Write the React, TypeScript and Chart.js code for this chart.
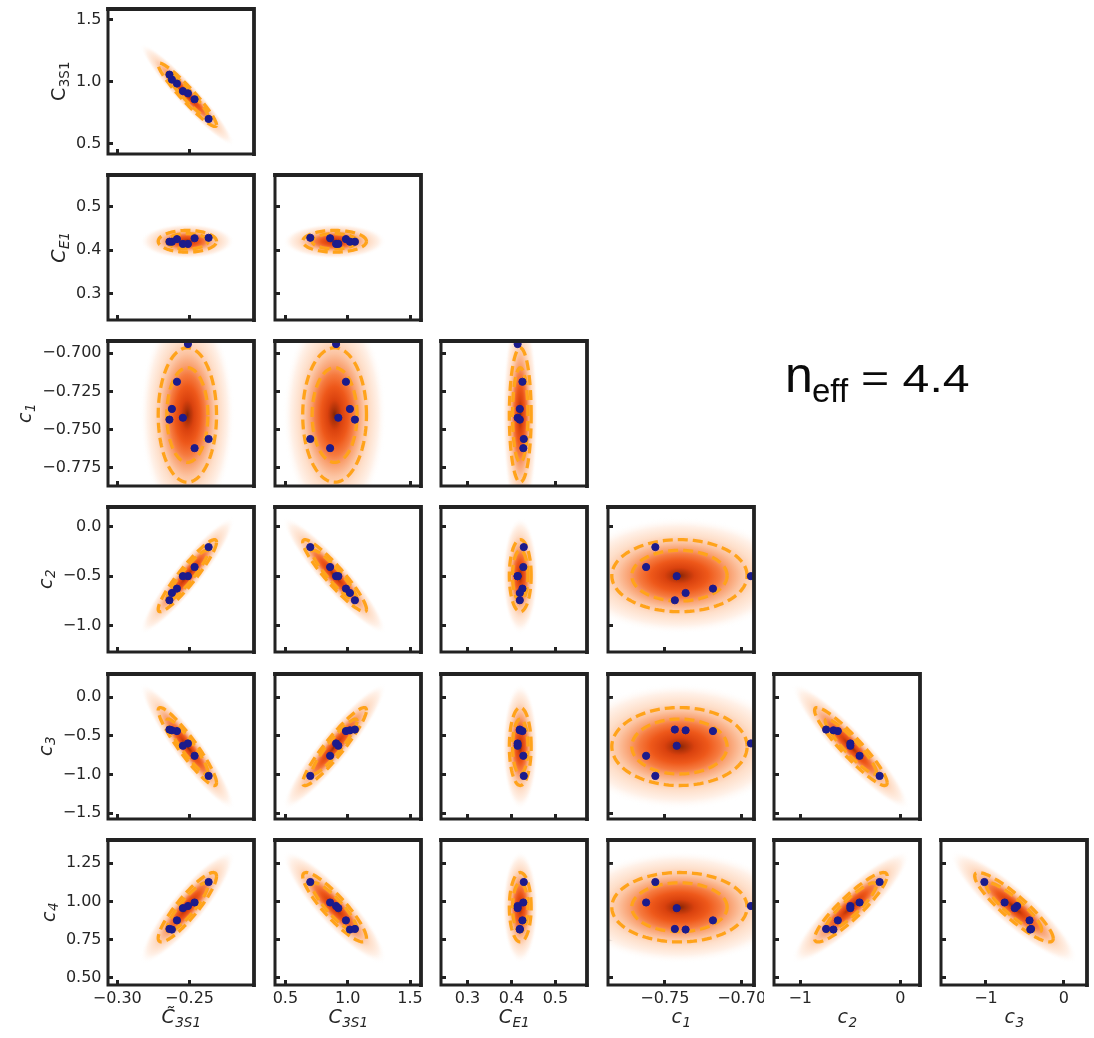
import React, { useEffect, useRef } from 'react';
import { Chart, registerables } from 'chart.js';

Chart.register(...registerables);

// ---------------- data ----------------
// parameter order: C~3S1, C3S1, CE1, c1, c2, c3, c4
const labelMain = ['C\u0303', 'C', 'C', 'c', 'c', 'c', 'c'];
const labelSub = ['3S1', '3S1', 'E1', '1', '2', '3', '4'];
const yLabelItalic = [true, false, true, true, true, true, true];

const axisMin = [-0.3064, 0.417, 0.2395, -0.787, -1.262, -1.577, 0.453];
const axisMax = [-0.2054, 1.588, 0.572, -0.692, 0.195, 0.298, 1.402];

const xTickValues = [[-0.3, -0.25], [0.5, 1.0, 1.5], [0.3, 0.4, 0.5], [-0.75, -0.7], [-1, 0], [-1, 0], []];
const xTickLabels = [['−0.30', '−0.25'], ['0.5', '1.0', '1.5'], ['0.3', '0.4', '0.5'], ['−0.75', '−0.70'], ['−1', '0'], ['−1', '0'], []];
const yTickValues = [[], [0.5, 1.0, 1.5], [0.3, 0.4, 0.5], [-0.7, -0.725, -0.75, -0.775], [0, -0.5, -1.0], [0, -0.5, -1.0, -1.5], [0.5, 0.75, 1.0, 1.25]];
const yTickLabels = [[], ['0.5', '1.0', '1.5'], ['0.3', '0.4', '0.5'], ['−0.700', '−0.725', '−0.750', '−0.775'], ['0.0', '−0.5', '−1.0'], ['0.0', '−0.5', '−1.0', '−1.5'], ['0.50', '0.75', '1.00', '1.25']];

// gaussian posterior summary (mean, 1-sigma contour half width)
const meanValues = [-0.2515, 0.895, 0.42, -0.7405, -0.495, -0.64, 0.962];
const sigmaValues = [0.0142, 0.18, 0.0175, 0.031, 0.255, 0.355, 0.16];

// correlations, lower triangle: row parameter (1..6) vs column parameter (0..row-1)
const corrRow1 = [-0.95];
const corrRow2 = [0, 0];
const corrRow3 = [0, 0, 0];
const corrRow4 = [0.93, -0.93, 0, 0];
const corrRow5 = [-0.93, 0.93, 0, 0, -0.93];
const corrRow6 = [0.89, -0.89, 0, 0, 0.9, -0.9];
const corrRows = [corrRow1, corrRow2, corrRow3, corrRow4, corrRow5, corrRow6];

const contourLevels = [1.0, 1.42];

// blue samples (7 samples)
const sampleCt3S1 = [-0.2511, -0.2587, -0.2622, -0.2546, -0.2639, -0.2368, -0.2465];
const sampleC3S1 = [0.907, 0.986, 1.018, 0.925, 1.058, 0.70, 0.859];
const sampleCE1 = [0.414, 0.425, 0.419, 0.414, 0.419, 0.428, 0.427];
const sampleC1 = [-0.694, -0.7187, -0.7365, -0.7423, -0.7435, -0.7562, -0.7622];
const sampleC2 = [-0.50, -0.625, -0.669, -0.50, -0.742, -0.208, -0.408];
const sampleC3 = [-0.60, -0.44, -0.43, -0.63, -0.42, -1.02, -0.76];
const sampleC4 = [0.97, 0.876, 0.816, 0.956, 0.82, 1.127, 0.993];
const samples = [sampleCt3S1, sampleC3S1, sampleCE1, sampleC1, sampleC2, sampleC3, sampleC4];

const neffValue = '4.4';

// ---------------- layout ----------------
const Lm = 105, Rm = 10, Tm = 10, Bm = 50;
const PW = 146, PH = 145;
const colLeft = [108, 275, 441, 608, 774, 941];
const rowTop = [9, 175, 341, 507, 674, 840];

const TICK_FONT = '"DejaVu Sans", sans-serif';
const TEXT_COLOR = '#262626';

function contourPoints(mx: number, my: number, sx: number, sy: number, rho: number, r: number) {
  const pts: { x: number; y: number }[] = [];
  const n = 120;
  const s = Math.sqrt(1 - rho * rho);
  for (let k = 0; k <= n; k++) {
    const t = (2 * Math.PI * k) / n;
    const u = Math.cos(t), v = Math.sin(t);
    pts.push({ x: mx + r * sx * u, y: my + r * sy * (rho * u + s * v) });
  }
  return pts;
}

function drawMathLabel(ctx: CanvasRenderingContext2D, main: string, sub: string, italic: boolean, x: number, y: number, rotated: boolean) {
  ctx.save();
  ctx.translate(x, y);
  if (rotated) ctx.rotate(-Math.PI / 2);
  const st = italic ? 'italic ' : '';
  const fMain = `${st}19px ${TICK_FONT}`;
  const fSub = `${st}13.5px ${TICK_FONT}`;
  ctx.font = fMain;
  const wm = ctx.measureText(main).width;
  ctx.font = fSub;
  const ws = ctx.measureText(sub).width;
  const x0 = -(wm + ws) / 2;
  ctx.fillStyle = TEXT_COLOR;
  ctx.textAlign = 'left';
  ctx.textBaseline = 'alphabetic';
  ctx.font = fMain;
  ctx.fillText(main, x0, 0);
  ctx.font = fSub;
  ctx.fillText(sub, x0 + wm + 0.5, 3.5);
  ctx.restore();
}

function Panel({ row, col }: { row: number; col: number }) {
  const ref = useRef<HTMLCanvasElement>(null);
  const W = Lm + PW + Rm;
  const H = Tm + PH + Bm;
  useEffect(() => {
    const xi = col;
    const yi = row + 1;
    const isLeft = col === 0;
    const isBottom = row === 5;
    const mx = meanValues[xi], my = meanValues[yi];
    const sx = sigmaValues[xi], sy = sigmaValues[yi];
    const rho = corrRows[row][col];

    const shadePlugin = {
      id: 'gaussShade',
      beforeDatasetsDraw(chart: any) {
        const { ctx, chartArea, scales } = chart;
        const xs = scales.x, ys = scales.y;
        const cx = xs.getPixelForValue(mx);
        const cy = ys.getPixelForValue(my);
        const kx = xs.getPixelForValue(mx + sx) - cx;
        const ky = ys.getPixelForValue(my + sy) - cy;
        const s = Math.sqrt(1 - rho * rho);
        ctx.save();
        ctx.beginPath();
        ctx.rect(chartArea.left, chartArea.top, chartArea.right - chartArea.left, chartArea.bottom - chartArea.top);
        ctx.clip();
        ctx.transform(kx, ky * rho, 0, ky * s, cx, cy);
        const R = 2.3;
        const g = ctx.createRadialGradient(0, 0, 0, 0, 0, R);
        const stops: [number, string][] = [
          [0, 'rgb(125,38,8)'],
          [0.12, 'rgb(170,48,8)'],
          [0.32, 'rgb(218,66,14)'],
          [0.6, 'rgb(238,88,26)'],
          [0.85, 'rgb(246,122,62)'],
          [1.05, 'rgb(249,160,112)'],
          [1.3, 'rgb(252,196,162)'],
          [1.6, 'rgb(254,223,202)'],
          [1.95, 'rgb(255,241,232)'],
          [2.3, 'rgba(255,255,255,0)'],
        ];
        stops.forEach(([r, c]) => g.addColorStop(r / R, c));
        ctx.fillStyle = g;
        ctx.beginPath();
        ctx.arc(0, 0, R, 0, Math.PI * 2);
        ctx.fill();
        ctx.restore();
      },
    };

    const framePlugin = {
      id: 'frameAndTitles',
      afterDraw(chart: any) {
        const { ctx, chartArea } = chart;
        const { left, right, top, bottom } = chartArea;
        ctx.save();
        ctx.strokeStyle = '#222';
        ctx.lineCap = 'square';
        ctx.lineWidth = 3;
        ctx.beginPath();
        ctx.moveTo(left, top);
        ctx.lineTo(left, bottom);
        ctx.lineTo(right, bottom);
        ctx.stroke();
        ctx.lineWidth = 3.8;
        ctx.beginPath();
        ctx.moveTo(left, top);
        ctx.lineTo(right, top);
        ctx.lineTo(right, bottom);
        ctx.stroke();
        ctx.restore();
        if (isBottom) {
          drawMathLabel(ctx, labelMain[xi], labelSub[xi], true, (left + right) / 2, bottom + 38, false);
        }
        if (isLeft) {
          ctx.save();
          ctx.font = `16px ${TICK_FONT}`;
          let maxW = 0;
          yTickLabels[yi].forEach((t) => { maxW = Math.max(maxW, ctx.measureText(t).width); });
          ctx.restore();
          const bx = left - 6.5 - maxW - 11;
          drawMathLabel(ctx, labelMain[yi], labelSub[yi], yLabelItalic[yi], bx, (top + bottom) / 2, true);
        }
      },
    };

    const contourSets = contourLevels.map((lv) => ({
      type: 'scatter' as const,
      data: contourPoints(mx, my, sx, sy, rho, lv),
      showLine: true,
      borderColor: '#ffa31a',
      borderWidth: 3.3,
      borderDash: [10, 5],
      pointRadius: 0,
      fill: false,
      tension: 0,
    }));

    const samplePts = samples[xi].map((v, k) => ({ x: v, y: samples[yi][k] }));

    const tickCfg = (vals: number[], labels: string[], show: boolean, pad: number) => ({
      display: show,
      autoSkip: false,
      maxRotation: 0,
      minRotation: 0,
      padding: pad,
      color: TEXT_COLOR,
      font: { family: TICK_FONT, size: 16 },
      callback: (value: number) => {
        const idx = vals.findIndex((v) => Math.abs(v - value) < 1e-9);
        return idx >= 0 ? labels[idx] : '';
      },
    });
    const gridCfg = { drawOnChartArea: false, drawTicks: true, tickLength: -5, tickWidth: 3, tickColor: '#222' };
    const zeroPad = (s: any) => {
      s.paddingTop = 0;
      s.paddingBottom = 0;
      s.paddingLeft = 0;
      s.paddingRight = 0;
    };

    const xv = xTickValues[xi], yv = yTickValues[yi];
    const chart = new Chart(ref.current as HTMLCanvasElement, {
      type: 'scatter',
      data: {
        datasets: [
          {
            type: 'scatter',
            data: samplePts,
            pointRadius: 3.6,
            pointHoverRadius: 3.6,
            backgroundColor: '#1b1b8c',
            borderColor: '#1b1b8c',
            borderWidth: 1,
          },
          ...contourSets,
        ] as any,
      },
      options: {
        responsive: false,
        animation: false,
        devicePixelRatio: 1,
        events: [],
        layout: { padding: { left: 0, right: Rm, top: Tm, bottom: 0 } },
        plugins: { legend: { display: false }, tooltip: { enabled: false }, title: { display: false } },
        scales: {
          x: {
            type: 'linear',
            min: axisMin[xi],
            max: axisMax[xi],
            afterBuildTicks: (s: any) => { s.ticks = xv.map((v) => ({ value: v })); },
            afterFit: (s: any) => { s.height = Bm; zeroPad(s); },
            ticks: tickCfg(xv, xTickLabels[xi], isBottom, 9),
            grid: gridCfg,
            border: { display: false },
          },
          y: {
            type: 'linear',
            min: axisMin[yi],
            max: axisMax[yi],
            afterBuildTicks: (s: any) => { s.ticks = yv.map((v) => ({ value: v })); },
            afterFit: (s: any) => { s.width = Lm; zeroPad(s); },
            ticks: tickCfg(yv, yTickLabels[yi], isLeft, 11.5),
            grid: gridCfg,
            border: { display: false },
          },
        },
      } as any,
      plugins: [shadePlugin, framePlugin],
    });
    return () => chart.destroy();
  }, [row, col]);
  return (
    <canvas
      ref={ref}
      width={W}
      height={H}
      style={{ position: 'absolute', left: colLeft[col] - Lm, top: rowTop[row] - Tm, width: W, height: H }}
    />
  );
}

function NeffLabel() {
  const ref = useRef<HTMLCanvasElement>(null);
  useEffect(() => {
    const cv = ref.current;
    if (!cv) return;
    const ctx = cv.getContext('2d');
    if (!ctx) return;
    ctx.clearRect(0, 0, cv.width, cv.height);
    ctx.fillStyle = '#0a0a0a';
    ctx.textBaseline = 'alphabetic';
    ctx.textAlign = 'left';
    const ox = 760, oy = 330;
    ctx.font = '50px "Liberation Sans", Arial, sans-serif';
    ctx.fillText('n', 785 - ox, 392 - oy);
    ctx.font = '33px "Liberation Sans", Arial, sans-serif';
    ctx.fillText('eff', 812 - ox, 401.5 - oy);
    ctx.save();
    ctx.translate(861 - ox, 392 - oy);
    ctx.scale(1.27, 1);
    ctx.font = '38px "Liberation Sans", Arial, sans-serif';
    ctx.fillText(`= ${neffValue}`, 0, 0);
    ctx.restore();
  }, []);
  return <canvas ref={ref} width={260} height={90} style={{ position: 'absolute', left: 760, top: 330, width: 260, height: 90 }} />;
}

export default function App() {
  const panels: { row: number; col: number }[] = [];
  for (let r = 0; r < 6; r++) for (let c = 0; c <= r; c++) panels.push({ row: r, col: c });
  return (
    <div style={{ position: 'absolute', left: 0, top: 0, width: 1094, height: 1038, overflow: 'hidden', background: '#fff' }}>
      {panels.map((p) => (
        <Panel key={`${p.row}-${p.col}`} row={p.row} col={p.col} />
      ))}
      <NeffLabel />
    </div>
  );
}
